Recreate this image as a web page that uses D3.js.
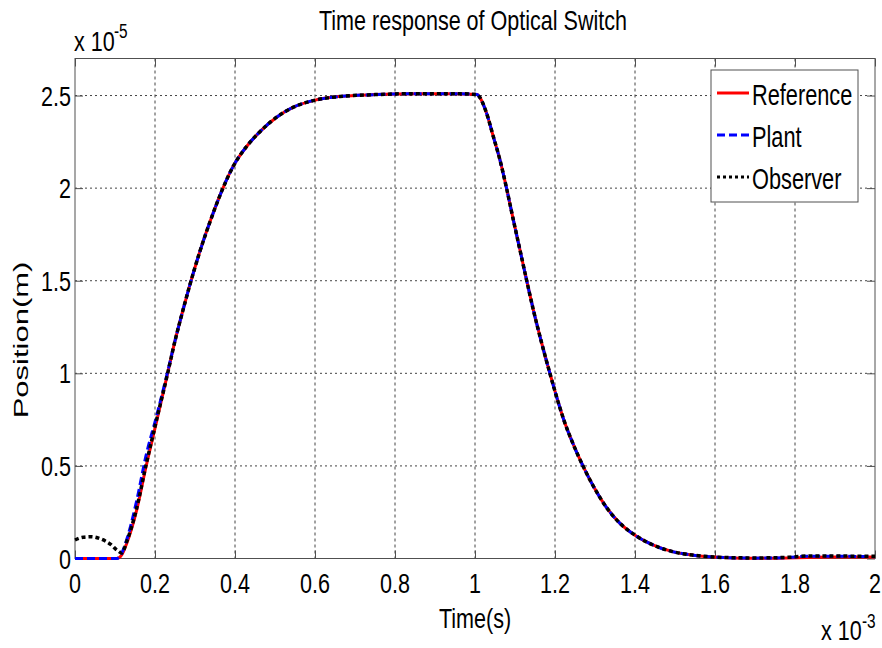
<!DOCTYPE html>
<html>
<head>
  <meta charset="UTF-8">
  <title>Time response of Optical Switch</title>
  <script src="https://d3js.org/d3.v7.min.js"></script>
  <style>
    body { margin: 0; background: #fff; }
    text { font-family: 'Liberation Sans', Arial, sans-serif; fill: #000; }
  </style>
</head>
<body>
<svg id="chart"></svg>
<script>

// time in units of 1e-3 s, position in units of 1e-5 m
const timeMs = [0, 0.02, 0.04, 0.065, 0.09, 0.105, 0.117, 0.129, 0.154, 0.177, 0.204, 0.229, 0.25, 0.271, 0.2875,
    0.3125, 0.342, 0.367, 0.396, 0.429, 0.4625, 0.504, 0.546, 0.598, 0.6625, 0.75, 0.85, 0.95, 1.005, 1.012,
    1.029, 1.046, 1.0625, 1.079, 1.096, 1.1125, 1.129, 1.146, 1.167, 1.1875, 1.21, 1.221, 1.246,
    1.271, 1.296, 1.329, 1.3625, 1.4, 1.446, 1.496, 1.546, 1.598, 1.65, 1.7, 1.78, 1.83, 1.9, 2.0];

const refPos = [0, 0, 0, 0, 0, 0, 0.02, 0.08, 0.26, 0.49, 0.74, 0.975, 1.175, 1.35, 1.48,
    1.66, 1.845, 1.985, 2.12, 2.225, 2.305, 2.383, 2.437, 2.474, 2.495, 2.505, 2.51, 2.51, 2.505, 2.49,
    2.404, 2.277, 2.151, 1.998, 1.827, 1.665, 1.503, 1.341, 1.161, 0.998, 0.83, 0.755, 0.615,
    0.495, 0.39, 0.275, 0.19, 0.126, 0.072, 0.036, 0.018, 0.008, 0.003, 0.001, 0.003, 0.006, 0.008, 0.008];

const plantPos = [0, 0, 0, 0, 0, 0, 0.03, 0.1, 0.31, 0.55, 0.77, 0.985, 1.175, 1.35, 1.48,
    1.66, 1.845, 1.985, 2.12, 2.225, 2.305, 2.383, 2.437, 2.474, 2.495, 2.505, 2.51, 2.51, 2.505, 2.49,
    2.404, 2.277, 2.151, 1.998, 1.827, 1.665, 1.503, 1.341, 1.161, 0.998, 0.83, 0.755, 0.615,
    0.495, 0.39, 0.275, 0.19, 0.126, 0.072, 0.036, 0.018, 0.008, 0.003, 0.002, 0.005, 0.012, 0.012, 0.01];

const obsPos = [0.10, 0.115, 0.118, 0.105, 0.075, 0.045, 0.03, 0.09, 0.27, 0.5, 0.75, 0.975, 1.175, 1.35, 1.48,
    1.66, 1.845, 1.985, 2.12, 2.225, 2.305, 2.383, 2.437, 2.474, 2.495, 2.505, 2.51, 2.51, 2.505, 2.49,
    2.404, 2.277, 2.151, 1.998, 1.827, 1.665, 1.503, 1.341, 1.161, 0.998, 0.83, 0.755, 0.615,
    0.495, 0.39, 0.275, 0.19, 0.126, 0.072, 0.036, 0.018, 0.008, 0.004, 0.003, 0.006, 0.013, 0.013, 0.012];

const xTicks = [0, 0.2, 0.4, 0.6, 0.8, 1, 1.2, 1.4, 1.6, 1.8, 2];
const yTicks = [0, 0.5, 1, 1.5, 2, 2.5];
const seriesNames = ["Reference", "Plant", "Observer"];

let width = 882, height = 648;
let margin = {left: 75, top: 58.5, right: 7, bottom: 89.5};
let sx = 0.77; // horizontal squeeze of the lettering

let svg = d3.select("#chart").attr("width", width).attr("height", height);

let x = d3.scaleLinear().domain([0, 2]).range([margin.left, width - margin.right]);
let y = d3.scaleLinear().domain([0, 2.7]).range([height - margin.bottom, margin.top]);

function label(str, px, py, size, anchor, rot, squeeze) {
    let k = squeeze || sx;
    return svg.append("text")
        .attr("transform", "translate(" + px + "," + py + ") scale(" + k + ",1)" + (rot ? " rotate(" + rot + ")" : ""))
        .attr("text-anchor", anchor)
        .style("font-size", size + "px")
        .text(str);
}

// grid
svg.append("g").selectAll("line").data(xTicks.slice(1, -1)).enter().append("line")
    .attr("x1", d => x(d)).attr("x2", d => x(d))
    .attr("y1", y(2.7)).attr("y2", y(0))
    .style("stroke", "#444").style("stroke-dasharray", "3,3");
svg.append("g").selectAll("line").data(yTicks.slice(1)).enter().append("line")
    .attr("y1", d => y(d)).attr("y2", d => y(d))
    .attr("x1", x(0)).attr("x2", x(2))
    .style("stroke", "#444").style("stroke-dasharray", "2,3");

// axes box with inward ticks on all sides
let frame = svg.append("g").style("stroke", "#505050").style("fill", "none");
frame.append("rect")
    .attr("x", x(0)).attr("y", y(2.7))
    .attr("width", x(2) - x(0)).attr("height", y(0) - y(2.7));
frame.append("g").attr("transform", "translate(0," + y(0) + ")")
    .call(d3.axisTop(x).tickValues(xTicks).tickSize(8).tickFormat(""));
frame.append("g").attr("transform", "translate(0," + y(2.7) + ")")
    .call(d3.axisBottom(x).tickValues(xTicks).tickSize(8).tickFormat(""));
frame.append("g").attr("transform", "translate(" + x(0) + ",0)")
    .call(d3.axisRight(y).tickValues(yTicks).tickSize(8).tickFormat(""));
frame.append("g").attr("transform", "translate(" + x(2) + ",0)")
    .call(d3.axisLeft(y).tickValues(yTicks).tickSize(8).tickFormat(""));
frame.selectAll(".domain").remove();
frame.selectAll(".tick line").style("stroke", "#505050");

// tick labels
xTicks.forEach(d => label(d3.format("")(d), x(d), 593, 28, "middle"));
yTicks.forEach(d => label(d3.format("")(d), 71, y(d) + 10, 28, "end"));

// curves
let line = d3.line().curve(d3.curveMonotoneX);
let styles = [
    {data: refPos, color: "#ff0000", dash: null, w: 3},
    {data: plantPos, color: "#0000ff", dash: "8,4", w: 3},
    {data: obsPos, color: "#000000", dash: "4,3", w: 3.5}
];
styles.forEach(s => {
    svg.append("path")
        .attr("d", line(timeMs.map((t, i) => [x(t), y(s.data[i])])))
        .style("fill", "none")
        .style("stroke", s.color)
        .style("stroke-width", s.w)
        .style("stroke-dasharray", s.dash);
});

// legend
svg.append("rect")
    .attr("x", 711).attr("y", 70).attr("width", 147).attr("height", 132)
    .style("fill", "#fff").style("stroke", "#505050");
seriesNames.forEach((name, i) => {
    let ly = 93 + i * 42;
    svg.append("line")
        .attr("x1", 717).attr("x2", 749).attr("y1", ly).attr("y2", ly)
        .style("stroke", styles[i].color).style("stroke-width", 3)
        .style("stroke-dasharray", styles[i].dash == null ? null : (i == 1 ? "8,4" : "3,3"));
    label(name, 752, ly + 12, 29, "start", null, 0.75);
});

// titles and labels
label("Time response of Optical Switch", x(1) - 2, 30, 28, "middle");
label("Time(s)", x(1), 628, 28, "middle");
label("Position(m)", 28, 340, 31, "middle", -90, 0.68);

// exponent labels
label("x 10", 74, 51, 28, "start");
label("-5", 114, 38, 20, "start");
label("x 10", 821, 640, 28, "start");
label("-3", 862, 628, 20, "start");

</script>
</body>
</html>
